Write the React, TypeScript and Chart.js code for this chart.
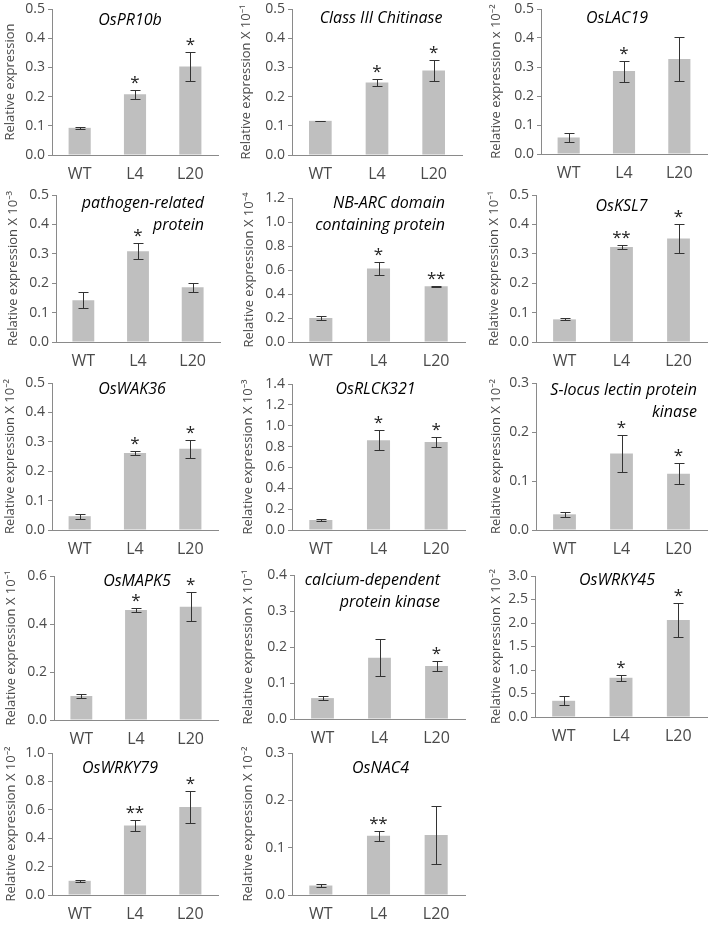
import React, { useEffect, useRef } from "react";
import { Chart, registerables } from "chart.js";

Chart.register(...registerables);

const categories = ["WT", "L4", "L20"];

const osPR10bMean = [0.093, 0.208, 0.303];
const osPR10bErr = [0.004, 0.015, 0.049];
const osPR10bSig = ["", "*", "*"];

const chitinaseMean = [0.117, 0.248, 0.289];
const chitinaseErr = [0.001, 0.012, 0.035];
const chitinaseSig = ["", "*", "*"];

const osLAC19Mean = [0.057, 0.286, 0.328];
const osLAC19Err = [0.017, 0.036, 0.075];
const osLAC19Sig = ["", "*", ""];

const pathogenMean = [0.142, 0.309, 0.186];
const pathogenErr = [0.028, 0.027, 0.015];
const pathogenSig = ["", "*", ""];

const nbArcMean = [0.2, 0.612, 0.465];
const nbArcErr = [0.02, 0.057, 0.003];
const nbArcSig = ["", "*", "**"];

const osKSL7Mean = [0.077, 0.323, 0.352];
const osKSL7Err = [0.003, 0.008, 0.05];
const osKSL7Sig = ["", "**", "*"];

const osWAK36Mean = [0.047, 0.262, 0.276];
const osWAK36Err = [0.009, 0.006, 0.03];
const osWAK36Sig = ["", "*", "*"];

const osRLCK321Mean = [0.096, 0.86, 0.843];
const osRLCK321Err = [0.005, 0.096, 0.045];
const osRLCK321Sig = ["", "*", "*"];

const sLocusMean = [0.032, 0.156, 0.115];
const sLocusErr = [0.005, 0.038, 0.022];
const sLocusSig = ["", "*", "*"];

const osMAPK5Mean = [0.1, 0.458, 0.472];
const osMAPK5Err = [0.01, 0.008, 0.061];
const osMAPK5Sig = ["", "*", "*"];

const calciumMean = [0.058, 0.17, 0.147];
const calciumErr = [0.006, 0.051, 0.013];
const calciumSig = ["", "", "*"];

const osWRKY45Mean = [0.345, 0.835, 2.065];
const osWRKY45Err = [0.1, 0.06, 0.36];
const osWRKY45Sig = ["", "*", "*"];

const osWRKY79Mean = [0.1, 0.49, 0.62];
const osWRKY79Err = [0.006, 0.04, 0.11];
const osWRKY79Sig = ["", "**", "*"];

const osNAC4Mean = [0.02, 0.125, 0.127];
const osNAC4Err = [0.004, 0.01, 0.061];
const osNAC4Sig = ["", "**", ""];

const FONT = '"Open Sans", "Noto Sans", "DejaVu Sans", sans-serif';
const TEXT = "#4a4a4a";
const AXIS = "#8a8a8a";
const BAR = "#bfbfbf";
const ERR = "#333333";

type Panel = {
  title: string[];
  align: "center" | "right";
  tdx: number;
  tdy: number;
  ylabel: string;
  mean: number[];
  err: number[];
  sig: string[];
  max: number;
  step: number;
  axisX: number;
  right: number;
  top: number;
  bottom: number;
  titleX: number;
};

const RE = "Relative expression";

const panels: Panel[] = [
  { title: ["OsPR10b"], align: "center", tdx: -5, tdy: 11, ylabel: RE, mean: osPR10bMean, err: osPR10bErr, sig: osPR10bSig, max: 0.5, step: 0.1, axisX: 52, right: 218, top: 9, bottom: 155, titleX: 9 },
  { title: ["Class III Chitinase"], align: "center", tdx: 4, tdy: 9, ylabel: RE + " X 10⁻¹", mean: chitinaseMean, err: chitinaseErr, sig: chitinaseSig, max: 0.5, step: 0.1, axisX: 292, right: 462, top: 9, bottom: 155, titleX: 245 },
  { title: ["OsLAC19"], align: "center", tdx: -7, tdy: 9, ylabel: RE + " x 10⁻²", mean: osLAC19Mean, err: osLAC19Err, sig: osLAC19Sig, max: 0.5, step: 0.1, axisX: 541, right: 707, top: 9, bottom: 154, titleX: 495 },
  { title: ["pathogen-related", "protein"], align: "right", tdx: -16, tdy: 8, ylabel: RE + " X 10⁻³", mean: pathogenMean, err: pathogenErr, sig: pathogenSig, max: 0.5, step: 0.1, axisX: 56, right: 220, top: 195, bottom: 342, titleX: 12 },
  { title: ["NB-ARC domain", "containing protein"], align: "right", tdx: -20, tdy: 5, ylabel: RE + " X 10⁻⁴", mean: nbArcMean, err: nbArcErr, sig: nbArcSig, max: 1.2, step: 0.2, axisX: 292, right: 465, top: 198, bottom: 342, titleX: 248 },
  { title: ["OsKSL7"], align: "center", tdx: 0, tdy: 11, ylabel: RE + " X 10⁻¹", mean: osKSL7Mean, err: osKSL7Err, sig: osKSL7Sig, max: 0.5, step: 0.1, axisX: 536, right: 707, top: 195, bottom: 342, titleX: 493 },
  { title: ["OsWAK36"], align: "center", tdx: -3, tdy: 6, ylabel: RE + " X 10⁻²", mean: osWAK36Mean, err: osWAK36Err, sig: osWAK36Sig, max: 0.5, step: 0.1, axisX: 52, right: 218, top: 383, bottom: 530, titleX: 9 },
  { title: ["OsRLCK321"], align: "center", tdx: -3, tdy: 5, ylabel: RE + " X 10⁻³", mean: osRLCK321Mean, err: osRLCK321Err, sig: osRLCK321Sig, max: 1.4, step: 0.2, axisX: 292, right: 465, top: 384, bottom: 530, titleX: 247 },
  { title: ["S-locus lectin protein", "kinase"], align: "right", tdx: -10, tdy: 7, ylabel: RE + " X 10⁻²", mean: sLocusMean, err: sLocusErr, sig: sLocusSig, max: 0.3, step: 0.1, axisX: 536, right: 707, top: 383, bottom: 530, titleX: 495 },
  { title: ["OsMAPK5"], align: "center", tdx: 1, tdy: 5, ylabel: RE + " X 10⁻¹", mean: osMAPK5Mean, err: osMAPK5Err, sig: osMAPK5Sig, max: 0.6, step: 0.2, axisX: 54, right: 218, top: 576, bottom: 720, titleX: 10 },
  { title: ["calcium-dependent", "protein kinase"], align: "right", tdx: -25, tdy: 5, ylabel: RE + " X 10⁻¹", mean: calciumMean, err: calciumErr, sig: calciumSig, max: 0.4, step: 0.1, axisX: 294, right: 465, top: 575, bottom: 719, titleX: 247 },
  { title: ["OsWRKY45"], align: "center", tdx: -4, tdy: 4, ylabel: RE + " X 10⁻²", mean: osWRKY45Mean, err: osWRKY45Err, sig: osWRKY45Sig, max: 3.0, step: 0.5, axisX: 535, right: 707, top: 576, bottom: 717, titleX: 495 },
  { title: ["OsWRKY79"], align: "center", tdx: -15, tdy: 15, ylabel: RE + " X 10⁻²", mean: osWRKY79Mean, err: osWRKY79Err, sig: osWRKY79Sig, max: 1.0, step: 0.2, axisX: 52, right: 218, top: 753, bottom: 895, titleX: 10 },
  { title: ["OsNAC4"], align: "center", tdx: 2, tdy: 15, ylabel: RE + " X 10⁻²", mean: osNAC4Mean, err: osNAC4Err, sig: osNAC4Sig, max: 0.3, step: 0.1, axisX: 292, right: 465, top: 753, bottom: 895, titleX: 247 },
];

function PanelChart({ p }: { p: Panel }) {
  const ref = useRef<HTMLCanvasElement>(null);
  const padTop = 12;
  const xH = 32;
  const padRight = 4;
  const left = Math.round(p.titleX - 7);
  const yW = p.axisX - left;
  const width = Math.round(p.right - left + padRight);
  const height = Math.round(p.bottom - p.top + padTop + xH);
  const canvasTop = p.top - padTop;

  useEffect(() => {
    const overlay = {
      id: "overlay",
      afterDatasetsDraw(chart: any) {
        const { ctx, chartArea } = chart;
        const ys = chart.scales.y;
        const meta = chart.getDatasetMeta(0);
        ctx.save();
        meta.data.forEach((bar: any, i: number) => {
          const m = p.mean[i];
          const e = p.err[i];
          const xx = Math.round(bar.x) + 0.5;
          const yT = Math.round(ys.getPixelForValue(m + e)) + 0.5;
          const yB = Math.round(ys.getPixelForValue(m - e)) + 0.5;
          const cap = 5;
          ctx.strokeStyle = ERR;
          ctx.lineWidth = 1;
          ctx.beginPath();
          ctx.moveTo(xx, yT);
          ctx.lineTo(xx, yB);
          ctx.moveTo(xx - cap, yT);
          ctx.lineTo(xx + cap, yT);
          ctx.moveTo(xx - cap, yB);
          ctx.lineTo(xx + cap, yB);
          ctx.stroke();
          const s = p.sig[i];
          if (s) {
            ctx.fillStyle = "#222";
            ctx.font = "17px " + FONT;
            ctx.textAlign = "center";
            ctx.textBaseline = "alphabetic";
            const n = s.length;
            for (let k = 0; k < n; k++) {
              const off = (k - (n - 1) / 2) * 9;
              ctx.fillText("*", bar.x + off, yT - 3);
            }
          }
        });
        ctx.fillStyle = "#000";
        ctx.font = "italic 16px " + FONT;
        ctx.textBaseline = "middle";
        if (p.align === "center") {
          ctx.textAlign = "center";
          ctx.fillText(p.title[0], (chartArea.left + chartArea.right) / 2 + p.tdx, chartArea.top + p.tdy);
        } else {
          ctx.textAlign = "right";
          p.title.forEach((t, k) => {
            ctx.fillText(t, chartArea.right + p.tdx, chartArea.top + p.tdy + k * 22);
          });
        }
        ctx.restore();
      },
    };

    const chart = new Chart(ref.current as HTMLCanvasElement, {
      type: "bar",
      data: {
        labels: categories,
        datasets: [
          {
            data: p.mean,
            backgroundColor: BAR,
            borderWidth: 0,
            barPercentage: 0.4,
            categoryPercentage: 1,
          },
        ],
      },
      options: {
        responsive: false,
        animation: false,
        devicePixelRatio: 1,
        layout: { padding: { top: padTop, right: padRight, left: 0, bottom: 0 } },
        plugins: {
          legend: { display: false },
          tooltip: { enabled: false },
          title: { display: false },
        },
        scales: {
          x: {
            grid: { display: false, drawTicks: false },
            border: { display: true, color: AXIS, width: 1 },
            ticks: { color: TEXT, font: { family: FONT, size: 16 }, padding: 10 },
            afterFit: (s: any) => {
              s.height = xH;
            },
          },
          y: {
            min: 0,
            max: p.max,
            ticks: {
              stepSize: p.step,
              color: TEXT,
              font: { family: FONT, size: 14 },
              padding: 3,
              callback: (v: any) => Number(v).toFixed(1),
            },
            grid: { drawOnChartArea: false, drawTicks: true, tickLength: 4, color: AXIS },
            border: { display: true, color: AXIS, width: 1 },
            title: {
              display: true,
              text: p.ylabel,
              color: TEXT,
              font: { family: FONT, size: 13 },
              padding: 0,
            },
            afterFit: (s: any) => {
              s.width = yW;
            },
          },
        },
      },
      plugins: [overlay],
    });
    return () => chart.destroy();
  }, []);

  return (
    <canvas
      ref={ref}
      width={width}
      height={height}
      style={{ position: "absolute", left, top: canvasTop, width, height }}
    />
  );
}

export default function App() {
  return (
    <div
      style={{
        position: "absolute",
        left: 0,
        top: 0,
        width: 709,
        height: 932,
        background: "#fff",
        overflow: "hidden",
      }}
    >
      {panels.map((p, i) => (
        <PanelChart key={i} p={p} />
      ))}
    </div>
  );
}
